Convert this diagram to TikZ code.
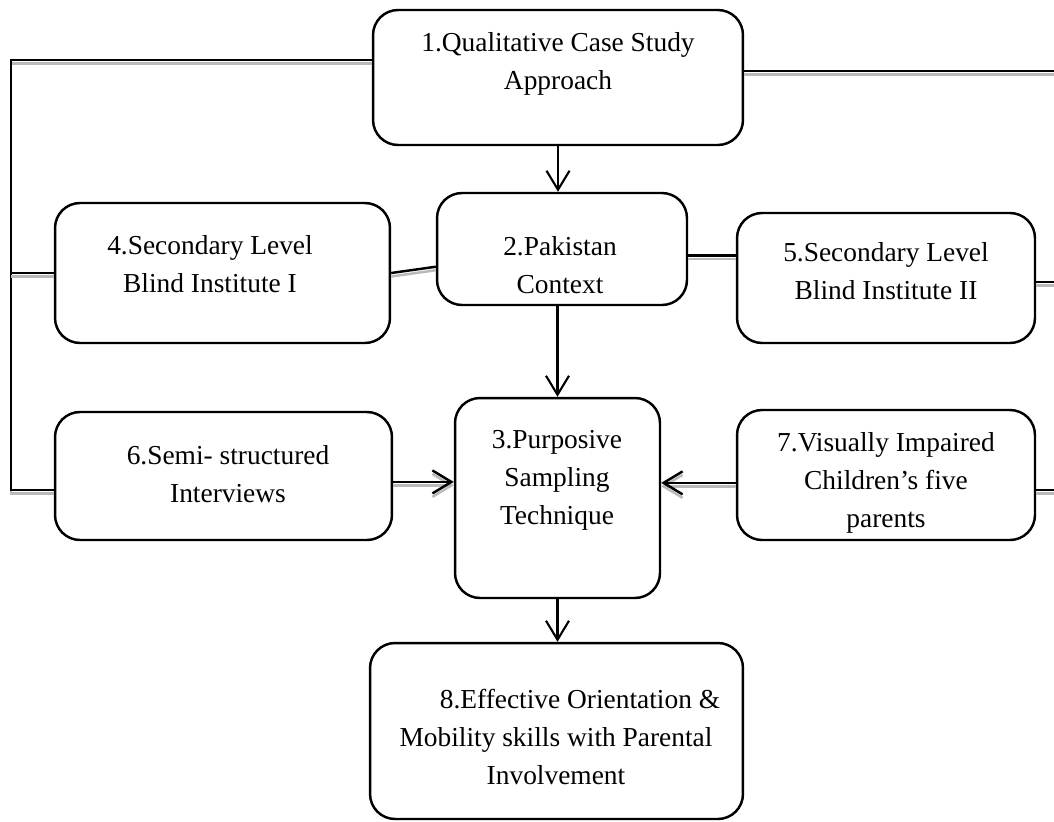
\documentclass[tikz,border=0pt]{standalone}
\usepackage{fontspec}
\setmainfont{Liberation Serif}
\usetikzlibrary{arrows.meta}

\begin{document}
\begin{tikzpicture}[x=0.02cm,y=-0.02cm,
    box/.style={draw,line width=1.4pt,rounded corners=0.5cm},
    txt/.style={align=center,inner sep=0pt,font=\fontsize{15.6}{21.6}\selectfont},
    link/.style={line width=1.4pt,preaction={draw=gray!55,line width=1.4pt,transform canvas={yshift=-0.07cm}}},
    arr/.style={line width=1.2pt,-{Straight Barb[length=0.38cm,width=0.46cm]}}]
  \useasboundingbox (0,0) rectangle (1054,821);
  %\draw[help lines,step=50](0,0) grid(1054,821);
  \node[box,minimum width=7.4cm,minimum height=2.7cm] (b1) at (558,77.5) {};
  \node[box,minimum width=5cm,minimum height=2.24cm] (b2) at (562,249) {};
  \node[box,minimum width=4.1cm,minimum height=4cm] (b3) at (557.5,498) {};
  \node[box,minimum width=6.7cm,minimum height=2.8cm] (b4) at (222.5,273) {};
  \node[box,minimum width=5.96cm,minimum height=2.6cm] (b5) at (886,278) {};
  \node[box,minimum width=6.74cm,minimum height=2.56cm] (b6) at (223.5,476) {};
  \node[box,minimum width=5.96cm,minimum height=2.6cm] (b7) at (886,475) {};
  \node[box,minimum width=7.46cm,minimum height=3.52cm] (b8) at (556.5,731) {};
  \node[txt] (t1) at (558,64) {1.Qualitative Case Study\\Approach};
  \node[txt] (t2) at (560,265) {2.Pakistan\\Context};
  \node[txt] (t3) at (557,480) {3.Purposive\\Sampling\\Technique};
  \node[txt] (t4) at (210,264) {4.Secondary Level\\Blind Institute I};
  \node[txt] (t5) at (886,271) {5.Secondary Level\\Blind Institute II};
  \node[txt] (t6) at (228,474) {6.Semi- structured\\Interviews};
  \node[txt] (t7) at (886,483) {7.Visually Impaired\\Children’s five\\parents};
  \node[txt] (t8) at (556,737) {\hspace*{0.96cm}8.Effective Orientation \&\\Mobility skills with Parental\\Involvement};
  % frame lines
  \coordinate (lt) at (11,60);
  \coordinate (lb) at (11,490);
  \coordinate (r1) at (1054,71);
  \coordinate (r5) at (1054,282);
  \coordinate (r7) at (1054,490);
  \path[draw,link] (b1.west |- lt)--(lt)--(lb)--(b6.west |- lb);
  \path[draw,link] (lt |- b4.west)--(b4.west);
  \path[draw,link] (b4.east)--(b2.188);
  \path[draw,link] (b2.-3)--(b2.-3 -| b5.west);
  \path[draw,link] (b1.east |- r1)--(r1);
  \path[draw,link] (b5.east |- r5)--(r5);
  \path[draw,link] (b7.east |- r7)--(r7);
  % arrows
  \path[draw,arr] (b1.south)--(b1.south |- b2.north);
  \path[draw,arr] (b3.north |- b2.south)--(b3.north);
  \path[draw,arr] (b3.south)--(b3.south |- b8.north);
  \path[draw,arr,link] (b6.-2)--(b6.-2 -| b3.west);
  \path[draw,arr,link] (b7.183)--(b7.183 -| b3.east);
\end{tikzpicture}
\end{document}
